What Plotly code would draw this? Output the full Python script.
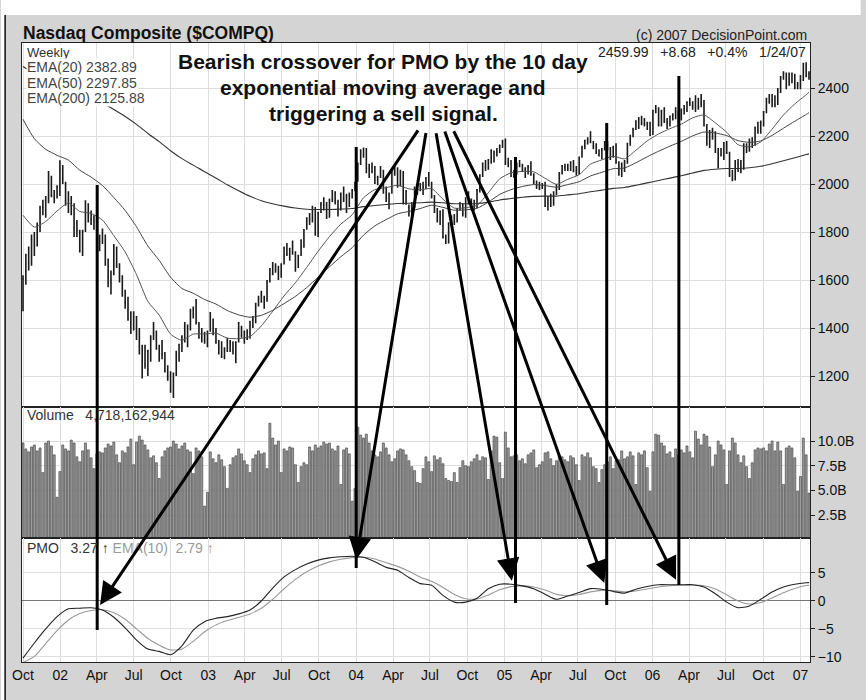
import plotly.graph_objects as go
import pandas as pd

# ---------------- data (weekly, Monday of each week from 2001-10-01) ----------------
closes = [
    1605, 1703, 1671, 1768, 1745, 1828, 1898, 1903, 1930, 2021, 1953, 1945, 1987,
    2059, 2022, 1930, 1937, 1911, 1818, 1805, 1724, 1802, 1929, 1868, 1851, 1845, 1770, 1756, 1796, 1663, 1613,
    1600, 1741, 1661, 1615, 1535, 1504, 1440, 1463, 1448, 1373, 1319, 1262, 1247, 1306, 1361, 1380, 1315, 1295,
    1291, 1221, 1199, 1139, 1210, 1287, 1331, 1360, 1359, 1411, 1468, 1479, 1422, 1362, 1363, 1348,
    1387, 1448, 1376, 1342, 1320, 1282, 1310, 1349, 1337, 1306, 1340, 1421, 1369, 1383, 1358, 1425, 1434, 1502,
    1520, 1538, 1510, 1596, 1646, 1626, 1644, 1625, 1663, 1733, 1708, 1731, 1715, 1653, 1702, 1765, 1810, 1858,
    1855, 1905, 1792, 1880, 1915, 1912, 1865, 1932, 1970, 1930, 1893, 1960, 1937, 1949, 1951, 1974,
    2006, 2087, 2140, 2124, 2066, 2064, 2053, 2007, 2029, 2055, 1985, 1940, 1961, 2057, 2052, 1995, 2050, 1920,
    1917, 1904, 1912, 1987, 1979, 1999, 1987, 2025, 2006, 1946, 1883, 1849, 1887, 1777, 1757, 1838, 1862, 1844,
    1895, 1910, 1879, 1942, 1919, 1911, 1915, 1975, 2038, 2085, 2070, 2101, 2138, 2129, 2135, 2160, 2175,
    2089, 2088, 2034, 2035, 2087, 2077, 2058, 2066, 2071, 2041, 2007, 1991, 1985, 1999, 1908, 1932, 1922, 1967,
    1976, 2046, 2075, 2071, 2063, 2090, 2053, 2057, 2112, 2152, 2180, 2185, 2177, 2157, 2135, 2120, 2141, 2175,
    2146, 2116, 2152, 2090, 2064, 2082, 2090, 2169, 2202, 2227, 2263, 2273, 2256, 2252, 2250, 2205,
    2305, 2317, 2247, 2304, 2262, 2261, 2282, 2287, 2302, 2262, 2306, 2313, 2340, 2339, 2326, 2342, 2323, 2342,
    2244, 2193, 2210, 2220, 2135, 2129, 2121, 2172, 2130, 2037, 2020, 2094, 2086, 2057, 2163, 2140, 2184, 2165,
    2235, 2218, 2258, 2300, 2357, 2342, 2350, 2330, 2390, 2445, 2461, 2413, 2438, 2457, 2401, 2415,
    2434, 2502, 2452, 2460,
]
highs = [
    1620, 1710, 1740, 1790, 1800, 1840, 1910, 1935, 1950, 2055, 2035, 1975, 1995,
    2099, 2080, 2010, 1970, 1950, 1920, 1850, 1810, 1810, 1930, 1920, 1890, 1870, 1850, 1790, 1815, 1790, 1690,
    1640, 1750, 1740, 1670, 1620, 1560, 1530, 1470, 1470, 1450, 1400, 1330, 1330, 1310, 1370, 1425, 1390, 1330,
    1350, 1300, 1245, 1220, 1215, 1305, 1335, 1370, 1425, 1415, 1480, 1490, 1521, 1425, 1400, 1385,
    1390, 1467, 1440, 1400, 1350, 1345, 1320, 1360, 1350, 1345, 1345, 1425, 1410, 1390, 1395, 1430, 1450, 1505,
    1535, 1555, 1535, 1600, 1650, 1675, 1670, 1660, 1670, 1740, 1755, 1735, 1765, 1720, 1705, 1770, 1812, 1860,
    1880, 1910, 1905, 1885, 1925, 1945, 1925, 1940, 1975, 1970, 1935, 1965, 1990, 1960, 1965, 1980,
    2010, 2090, 2145, 2153, 2150, 2085, 2090, 2075, 2035, 2075, 2060, 1990, 1965, 2060, 2080, 2070, 2060, 2055,
    1975, 1915, 1925, 1990, 2000, 2005, 2010, 2030, 2050, 2010, 1955, 1900, 1890, 1895, 1790, 1840, 1870, 1875,
    1900, 1925, 1920, 1945, 1970, 1940, 1935, 1980, 2040, 2090, 2100, 2105, 2145, 2140, 2150, 2165, 2185,
    2190, 2110, 2100, 2060, 2090, 2100, 2085, 2070, 2080, 2095, 2045, 2015, 2010, 2005, 2010, 1950, 1960, 1970,
    2000, 2050, 2080, 2085, 2085, 2095, 2100, 2075, 2115, 2160, 2185, 2195, 2220, 2180, 2170, 2145, 2150, 2180,
    2180, 2155, 2160, 2170, 2095, 2090, 2100, 2170, 2205, 2235, 2265, 2280, 2285, 2275, 2260, 2260,
    2310, 2330, 2320, 2310, 2320, 2275, 2285, 2295, 2320, 2305, 2315, 2330, 2345, 2360, 2345, 2370, 2360, 2375,
    2350, 2250, 2225, 2235, 2220, 2150, 2150, 2175, 2180, 2135, 2060, 2100, 2105, 2100, 2170, 2170, 2190, 2195,
    2240, 2260, 2265, 2305, 2360, 2375, 2375, 2370, 2400, 2450, 2470, 2465, 2465, 2465, 2460, 2425,
    2455, 2505, 2508, 2470,
]
lows = [
    1470, 1580, 1640, 1660, 1700, 1740, 1800, 1870, 1860, 1920, 1945, 1920, 1940,
    1950, 2000, 1910, 1880, 1870, 1780, 1780, 1715, 1700, 1800, 1840, 1830, 1810, 1760, 1720, 1750, 1660, 1570,
    1540, 1620, 1650, 1590, 1530, 1480, 1430, 1375, 1390, 1350, 1290, 1190, 1230, 1200, 1260, 1350, 1310, 1260,
    1270, 1215, 1180, 1130, 1108, 1200, 1260, 1300, 1340, 1320, 1390, 1440, 1415, 1355, 1340, 1335,
    1320, 1385, 1370, 1335, 1290, 1275, 1270, 1300, 1300, 1290, 1253, 1340, 1360, 1335, 1350, 1355, 1400, 1420,
    1490, 1505, 1480, 1510, 1590, 1620, 1630, 1600, 1610, 1665, 1700, 1680, 1705, 1635, 1650, 1700, 1735, 1810,
    1830, 1840, 1785, 1780, 1880, 1890, 1855, 1860, 1925, 1915, 1865, 1890, 1925, 1880, 1905, 1940,
    1970, 2010, 2080, 2110, 2045, 2025, 2045, 2000, 1995, 2025, 1960, 1925, 1895, 1960, 2035, 1985, 1990, 1915,
    1915, 1865, 1860, 1900, 1955, 1970, 1955, 1980, 1990, 1940, 1880, 1840, 1830, 1775, 1750, 1752, 1825, 1830,
    1840, 1890, 1865, 1860, 1915, 1890, 1890, 1900, 1965, 2030, 2055, 2060, 2085, 2090, 2115, 2130, 2150,
    2080, 2070, 2030, 2025, 2040, 2070, 2050, 2025, 2040, 2035, 2000, 1980, 1975, 1980, 1905, 1890, 1905, 1910,
    1955, 1975, 2040, 2055, 2055, 2055, 2050, 2035, 2040, 2110, 2145, 2165, 2170, 2145, 2125, 2115, 2105, 2140,
    2140, 2100, 2110, 2085, 2035, 2030, 2050, 2085, 2160, 2195, 2225, 2230, 2245, 2240, 2225, 2200,
    2205, 2295, 2240, 2240, 2255, 2230, 2240, 2265, 2270, 2240, 2265, 2290, 2300, 2325, 2310, 2300, 2310, 2320,
    2240, 2160, 2150, 2185, 2130, 2065, 2115, 2100, 2125, 2030, 2012, 2015, 2050, 2045, 2060, 2130, 2135, 2150,
    2160, 2210, 2210, 2240, 2295, 2335, 2320, 2320, 2330, 2380, 2435, 2395, 2410, 2420, 2395, 2395,
    2395, 2430, 2445, 2435,
]
volumes_b = [
    9.8, 9.2, 8.9, 9.4, 9.6, 9.0, 9.3, 6.8, 9.8, 10.0, 9.5, 8.6, 4.3,
    6.9, 9.6, 9.2, 9.0, 10.1, 9.8, 8.4, 7.9, 9.0, 9.8, 9.1, 8.3, 7.2,
    8.7, 8.9, 8.8, 9.3, 9.7, 9.5, 9.9, 8.6, 7.8, 9.0, 8.8, 9.4, 10.2,
    7.6, 9.9, 10.5, 10.1, 9.6, 9.1, 8.3, 8.5, 7.8, 6.2, 8.4, 9.0, 9.3,
    9.4, 10.0, 9.7, 9.2, 9.5, 9.8, 9.1, 8.9, 6.7, 9.3, 9.0, 8.4, 3.4,
    4.8, 8.9, 8.2, 7.8, 8.6, 8.1, 7.4, 5.2, 7.6, 8.3, 8.5, 9.2, 8.7,
    8.0, 7.6, 6.8, 8.2, 8.6, 9.0, 8.7, 8.8, 7.2, 11.8, 10.3, 9.6, 10.0,
    6.8, 9.2, 9.0, 9.4, 9.3, 7.6, 5.8, 7.4, 7.8, 7.6, 9.4, 9.0, 9.6,
    9.3, 9.5, 9.9, 9.7, 9.8, 9.2, 9.0, 9.5, 5.6, 9.1, 9.3, 8.7, 3.9,
    5.2, 11.4, 10.6, 10.3, 10.7, 9.8, 9.0, 8.6, 8.4, 8.9, 9.8, 9.3, 8.6,
    7.9, 8.2, 9.0, 9.2, 9.1, 8.6, 8.0, 7.4, 7.0, 5.8, 5.7, 7.2, 8.4,
    7.9, 6.9, 8.5, 8.1, 8.3, 7.7, 6.2, 6.0, 5.9, 6.8, 5.8, 7.3, 8.0,
    7.5, 7.4, 7.9, 8.2, 8.6, 8.0, 8.4, 8.3, 6.1, 9.0, 10.5, 10.4, 7.8,
    6.2, 10.9, 9.3, 8.4, 8.5, 8.6, 8.0, 8.2, 7.7, 8.6, 8.8, 9.1, 7.3,
    7.6, 7.9, 8.8, 8.9, 8.2, 7.5, 8.0, 8.6, 8.4, 8.1, 7.9, 8.5, 8.3,
    7.6, 6.0, 8.6, 8.4, 8.8, 8.3, 7.4, 7.2, 5.8, 7.1, 7.6, 7.9, 8.4,
    7.2, 8.0, 8.1, 9.0, 8.2, 8.4, 8.9, 8.5, 5.6, 8.8, 8.6, 9.0, 7.3,
    4.9, 8.9, 10.7, 10.6, 9.8, 9.5, 8.7, 8.9, 8.3, 9.2, 8.6, 9.1, 8.8,
    9.5, 8.9, 8.3, 11.0, 10.2, 9.6, 10.7, 10.5, 9.4, 7.4, 8.6, 10.0, 9.6,
    9.1, 5.6, 9.0, 10.3, 9.8, 8.6, 7.8, 8.5, 7.4, 6.2, 7.8, 9.1, 9.3,
    9.2, 9.3, 9.0, 9.7, 10.0, 9.0, 9.9, 9.0, 5.6, 9.3, 9.5, 9.3, 8.3,
    4.9, 6.4, 10.3, 8.6, 4.72,
]
# indicator values sampled every 4 weeks (plus the last week)
ema20 = [
    1870, 1821, 1844, 1888, 1921, 1886, 1878, 1850, 1785, 1717,
    1623, 1511, 1454, 1375, 1349, 1375, 1375, 1379, 1358, 1356,
    1365, 1409, 1470, 1534, 1589, 1653, 1720, 1781, 1833, 1872,
    1943, 1977, 1985, 1995, 1980, 1976, 1981, 1937, 1900, 1902,
    1911, 1964, 2022, 2047, 2053, 2051, 2024, 1999, 2020, 2039,
    2083, 2101, 2116, 2105, 2141, 2180, 2209, 2231, 2250, 2276,
    2288, 2255, 2216, 2164, 2155, 2176, 2229, 2288, 2334, 2372,
    2382.89,
]
ema50 = [
    2270, 2189, 2145, 2120, 2100, 2058, 2029, 1994, 1944, 1890,
    1822, 1742, 1682, 1612, 1565, 1545, 1519, 1500, 1473, 1455,
    1445, 1453, 1474, 1502, 1532, 1569, 1612, 1655, 1697, 1735,
    1787, 1826, 1852, 1876, 1886, 1898, 1912, 1903, 1891, 1893,
    1899, 1925, 1957, 1977, 1990, 1998, 1994, 1987, 1998, 2010,
    2034, 2049, 2064, 2067, 2089, 2114, 2137, 2158, 2178, 2201,
    2217, 2213, 2202, 2181, 2174, 2180, 2203, 2233, 2262, 2290,
    2297.85,
]
ema200 = [
    2490, 2460, 2438, 2420, 2403, 2380, 2360, 2338, 2311, 2282,
    2249, 2211, 2177, 2139, 2106, 2079, 2051, 2025, 1997, 1972,
    1949, 1931, 1918, 1908, 1900, 1895, 1894, 1894, 1896, 1898,
    1906, 1911, 1915, 1919, 1920, 1922, 1925, 1922, 1918, 1918,
    1919, 1925, 1934, 1940, 1945, 1949, 1950, 1950, 1955, 1960,
    1968, 1975, 1982, 1986, 1995, 2005, 2015, 2025, 2035, 2046,
    2057, 2062, 2065, 2065, 2068, 2074, 2085, 2097, 2110, 2123,
    2125.88,
]
pmo = [
    -10.2, -7.5, -5.0, -2.8, -1.4, -1.3, -1.2, -1.6, -2.9, -4.8,
    -7.0, -8.6, -9.0, -9.6, -8.0, -5.2, -3.7, -3.1, -2.8, -2.3,
    -1.6, 0.0, 2.3, 4.3, 5.6, 6.6, 7.3, 7.7, 7.9, 8.0,
    7.8, 7.0, 6.0, 5.5, 4.2, 3.1, 2.8, 1.0, -0.2, -0.2,
    0.5, 2.2, 3.0, 3.0, 2.7, 2.2, 1.2, 0.3, 0.9, 1.5,
    2.2, 2.1, 1.7, 1.4, 2.1, 2.6, 2.9, 2.9, 2.9, 2.9,
    2.5, 1.3, -0.2, -1.2, -0.9, 0.3, 1.6, 2.5, 3.0, 3.25,
    3.27,
]
pmo_signal = [
    -11.0, -9.9, -7.6, -5.3, -3.4, -2.25, -1.69, -1.58, -2.1, -3.27,
    -4.97, -6.7, -7.9, -8.74, -8.6, -7.2, -5.5, -4.27, -3.5, -2.92,
    -2.31, -1.3, 0.31, 2.18, 3.86, 5.21, 6.24, 6.98, 7.46, 7.74,
    7.81, 7.5, 6.84, 6.18, 5.3, 4.26, 3.51, 2.42, 1.17, 0.41,
    0.34, 1.08, 2.0, 2.56, 2.69, 2.5, 1.95, 1.18, 0.93, 1.15,
    1.62, 1.9, 1.85, 1.65, 1.78, 2.15, 2.51, 2.72, 2.82, 2.86,
    2.73, 2.14, 1.1, 0.0, -0.55, -0.28, 0.54, 1.47, 2.23, 2.75,
    2.79,
]
tick_labels = ["Oct", "02", "Apr", "Jul", "Oct", "03", "Apr", "Jul", "Oct", "04", "Apr",
               "Jul", "Oct", "05", "Apr", "Jul", "Oct", "06", "Apr", "Jul", "Oct", "07"]
price_ticks = [1200, 1400, 1600, 1800, 2000, 2200, 2400]
volume_ticks = [2.5, 5.0, 7.5, 10.0]
volume_tick_labels = ["2.5B", "5.0B", "7.5B", "10.0B"]
pmo_ticks = [-10, -5, 0, 5]
# sell-signal crossover dates and PMO levels targeted by the arrows
signal_dates = ["2002-04-02", "2004-01-01", "2005-01-28", "2005-09-10", "2006-03-07"]
arrow_heads = [("2002-04-09", -0.7), ("2004-01-01", 7.4), ("2005-01-19", 3.6),
               ("2005-09-04", 3.2), ("2006-02-28", 3.8)]

# ---------------- layout helpers ----------------
W, H = 866, 700
L, R, T, B = 21, 815, 43, 662          # plot-area pixel box
PW, PH = R - L, B - T


def X(px):
    return (px - L) / PW


def Y(py):
    return (B - py) / PH


FONT = "Liberation Sans, Arial, sans-serif"
GRID = "#dedede"
AX = "#222222"
NB = "\u00a0"

dates = pd.date_range("2001-10-01", periods=len(closes), freq="W-MON")
n = len(closes)
ema_idx = list(range(0, n - 1, 4)) + [n - 1]
ema_dates = [dates[i] for i in ema_idx]
tick_dates = pd.date_range("2001-10-01", "2007-01-01", freq="QS")

fig = go.Figure()

fig.add_trace(go.Ohlc(
    x=dates, open=closes, high=highs, low=lows, close=closes,
    increasing=dict(line=dict(color="#1a1a1a", width=1.6)),
    decreasing=dict(line=dict(color="#1a1a1a", width=1.6)),
    tickwidth=0.3, xaxis="x", yaxis="y", showlegend=False, hoverinfo="skip"))
for vals, col, w in [(ema200, "#333333", 1.1), (ema50, "#444444", 1.0), (ema20, "#555555", 1.0)]:
    fig.add_trace(go.Scatter(x=ema_dates, y=vals, mode="lines",
                             line=dict(color=col, width=w, shape="spline", smoothing=0.6),
                             xaxis="x", yaxis="y", showlegend=False, hoverinfo="skip"))

fig.add_trace(go.Bar(x=dates, y=volumes_b, marker=dict(color="#9c9c9c", line=dict(color="#3a3a3a", width=0.6)),
                     xaxis="x2", yaxis="y2", showlegend=False, hoverinfo="skip"))

fig.add_trace(go.Scatter(x=ema_dates, y=pmo_signal, mode="lines",
                         line=dict(color="#9a9a9a", width=1.1, shape="spline", smoothing=0.6),
                         xaxis="x3", yaxis="y3", showlegend=False, hoverinfo="skip"))
fig.add_trace(go.Scatter(x=ema_dates, y=pmo, mode="lines",
                         line=dict(color="#222222", width=1.1, shape="spline", smoothing=0.6),
                         xaxis="x3", yaxis="y3", showlegend=False, hoverinfo="skip"))

xrange = ["2001-09-28 12:00", "2007-01-24 12:00"]
xcommon = dict(type="date", range=xrange, tickvals=list(tick_dates), showgrid=True, gridcolor=GRID,
               gridwidth=1, showline=True, mirror=True, linecolor=AX, linewidth=1, ticks="",
               zeroline=False, fixedrange=True)
ycommon = dict(side="right", showgrid=True, gridcolor=GRID, showline=True, mirror=True, linecolor=AX,
               linewidth=1, ticks="outside", ticklen=4, tickcolor=AX, zeroline=False,
               tickfont=dict(family=FONT, size=14, color="#111111"), fixedrange=True)

v_top, v_bot = Y(407), Y(538)

fig.update_layout(
    width=W, height=H, autosize=False,
    margin=dict(l=L, r=W - R, t=T, b=H - B, pad=0),
    paper_bgcolor="#d4d4d4", plot_bgcolor="white",
    bargap=0.28, showlegend=False,
    font=dict(family=FONT, color="#222222"),
    xaxis=dict(xcommon, anchor="y", domain=[0, 1], showticklabels=False, rangeslider=dict(visible=False)),
    xaxis2=dict(xcommon, anchor="y2", domain=[0, 1], matches="x", showticklabels=False),
    xaxis3=dict(xcommon, anchor="y3", domain=[0, 1], matches="x", showticklabels=True,
                ticktext=tick_labels, tickfont=dict(family=FONT, size=14, color="#111111")),
    yaxis=dict(ycommon, domain=[v_top, 1], range=[1071, 2588], tickvals=price_ticks, anchor="x"),
    yaxis2=dict(ycommon, domain=[v_bot, v_top], range=[0.17, 13.45], tickvals=volume_ticks,
                ticktext=volume_tick_labels, anchor="x2"),
    yaxis3=dict(ycommon, domain=[0, v_bot], range=[-10.9, 11.25], tickvals=pmo_ticks, anchor="x3",
                zeroline=True, zerolinecolor="#777777", zerolinewidth=1),
)

shapes = []
# white margin at the top and left, dark frame edge
shapes.append(dict(type="rect", xref="paper", yref="paper", x0=X(0), x1=X(W), y0=Y(15), y1=Y(0),
                   fillcolor="white", line=dict(width=0), layer="above"))
shapes.append(dict(type="rect", xref="paper", yref="paper", x0=X(0), x1=X(3.5), y0=Y(H), y1=Y(0),
                   fillcolor="white", line=dict(width=0), layer="above"))
shapes.append(dict(type="line", xref="paper", yref="paper", x0=X(4), x1=X(4), y0=Y(H), y1=Y(15),
                   line=dict(color="#111111", width=1.5)))
# hand-drawn signal lines
line_spans = [(185, 630), (147, 568), (157, 603), (123, 605), (76, 585)]
for d, (top, bot) in zip(signal_dates, line_spans):
    shapes.append(dict(type="line", xref="x", yref="paper", x0=d, x1=d, y0=Y(bot), y1=Y(top),
                       line=dict(color="black", width=3), layer="above"))
fig.update_layout(shapes=shapes)

ann = []


def txt(s, px, py, size=14, color="#333333", anchor="left", bold=False, bg=None):
    d = dict(text=f"<b>{s}</b>" if bold else s, xref="paper", yref="paper", x=X(px), y=Y(py),
             xanchor=anchor, yanchor="middle", showarrow=False,
             font=dict(family=FONT, size=size, color=color), borderpad=0)
    if bg:
        d["bgcolor"] = bg
    ann.append(d)


txt("Nasdaq Composite ($COMPQ)", 21, 33, size=17.5, color="#111111", bold=True)
txt("(c) 2007 DecisionPoint.com", 813, 35, size=14, color="#222222", anchor="right")
txt(f"2459.99{NB*3}+8.68{NB*3}+0.4%{NB*3}1/24/07", 812, 52, size=14, color="#222222", anchor="right")
txt("Weekly", 25, 52, size=13, color="#333333", bg="white")
txt("EMA(20) 2382.89", 25, 67, size=14, color="#444444", bg="white")
txt("EMA(50) 2297.85", 25, 83, size=14, color="#444444", bg="white")
txt("EMA(200) 2125.88", 25, 98, size=14, color="#444444", bg="white")
txt(f"Volume{NB*3}4,718,162,944", 25, 415, size=14, color="#333333")
txt(f"PMO{NB*3}3.27 \u2191{NB}<span style='color:#9a9a9a'>EMA(10){NB*2}2.79 \u2191</span>",
    25, 548, size=14, color="#333333")
txt("Bearish crossover for PMO by the 10 day", 385, 61, size=21, color="#111111", anchor="center", bold=True)
txt("exponential moving average and", 385, 87, size=21, color="#111111", anchor="center", bold=True)
txt("triggering a sell signal.", 385, 113, size=21, color="#111111", anchor="center", bold=True)

tails = [(418, 130), (428, 132), (438, 132), (447, 130), (457, 130)]
head_px = [(99, 606), (358, 560), (514, 581), (607, 583), (680, 580)]
for (d, v), (tx, ty), (hx, hy) in zip(arrow_heads, tails, head_px):
    ann.append(dict(x=d, y=v, xref="x3", yref="y3", text="", showarrow=True,
                    ax=tx - hx, ay=ty - hy, axref="pixel", ayref="pixel",
                    arrowhead=2, arrowsize=1.5, arrowwidth=3, arrowcolor="black", standoff=0))
fig.update_layout(annotations=ann)

fig.write_html("out.html", config={"displayModeBar": False},
               post_script="document.body.style.margin='0px';document.body.style.padding='0px';")
